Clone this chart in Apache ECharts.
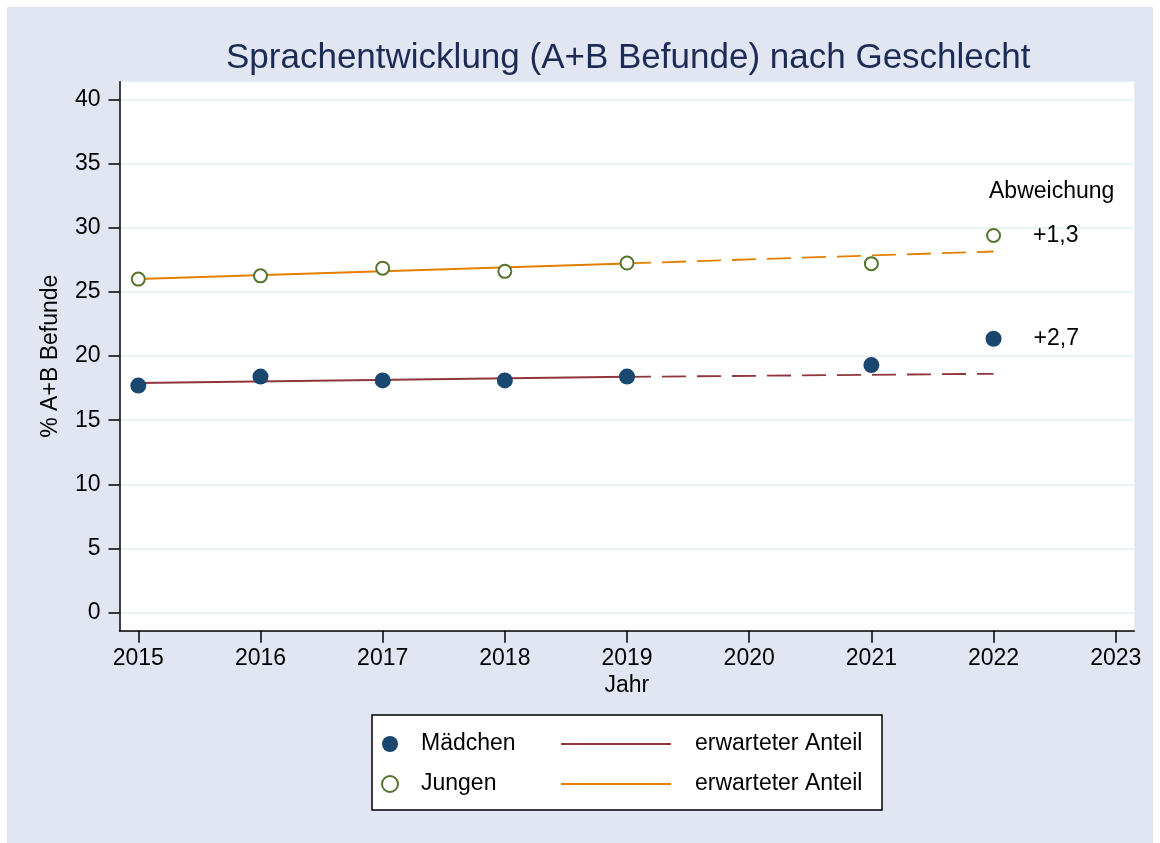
<!doctype html>
<html>
<head>
<meta charset="UTF-8">
<title>Sprachentwicklung nach Geschlecht</title>
<script src="https://cdn.jsdelivr.net/npm/echarts@6/dist/echarts.min.js"></script>
<style>
    html, body { margin: 0; padding: 0; background: #fff; }
    #main { width: 1160px; height: 843px; }
</style>
</head>
<body>
<div id="main"></div>
<script type="text/javascript">
    // Daten
    var years = [2015, 2016, 2017, 2018, 2019, 2021, 2022];
    var maedchen = [17.7, 18.4, 18.1, 18.1, 18.4, 19.3, 21.35];
    var jungen = [26.0, 26.25, 26.85, 26.6, 27.25, 27.2, 29.4];
    // erwarteter Anteil (Trend 2015-2019, fortgeschrieben bis 2022)
    var trendYears = [2015, 2019, 2022];
    var trendMaedchen = [17.9, 18.38, 18.62];
    var trendJungen = [26.0, 27.22, 28.15];
    var abweichung = ['+2,7', '+1,3'];
    var xTicks = [2015, 2016, 2017, 2018, 2019, 2020, 2021, 2022, 2023];
    var yTicks = [0, 5, 10, 15, 20, 25, 30, 35, 40];

    var font = 'Liberation Sans, Arial, sans-serif';
    var fs = 23;

    function points(vals, dev) {
        return years.map(function (y, i) {
            var item = { value: [y, vals[i]] };
            if (i === years.length - 1) {
                item.label = {
                    show: true, position: 'right', distance: 32,
                    formatter: dev, fontSize: fs, color: '#000', fontFamily: font
                };
            }
            return item;
        });
    }
    function line(vals, from, to) {
        var d = [];
        for (var i = from; i <= to; i++) d.push([trendYears[i], vals[i]]);
        return d;
    }

    var myChart = echarts.init(document.getElementById('main'));
    var option = {
        backgroundColor: '#fff',
        animation: false,
        title: {
            text: 'Sprachentwicklung (A+B Befunde) nach Geschlecht',
            left: 221,
            top: 36,
            textStyle: { color: '#1c2b55', fontSize: 35, fontWeight: 'normal', fontFamily: font }
        },
        graphic: [
            { type: 'rect', z: -10, shape: { x: 7, y: 7, width: 1146, height: 836 }, style: { fill: '#e1e6f2' } },
            { type: 'rect', z: 0, shape: { x: 372, y: 715, width: 510, height: 95 },
              style: { fill: '#fff', stroke: '#000', lineWidth: 1.5 } },
            { type: 'text', z: 10, left: 989, top: 180,
              style: { text: 'Abweichung', fontSize: fs, fill: '#000', fontFamily: font } }
        ],
        legend: [{
            orient: 'vertical',
            left: 376,
            top: 727,
            itemWidth: 16,
            itemHeight: 16,
            itemGap: 16,
            data: ['Mädchen', 'Jungen'],
            textStyle: { fontSize: fs, color: '#000', fontFamily: font, lineHeight: 24, padding: [0, 0, 0, 18] }
        }, {
            orient: 'vertical',
            left: 556,
            top: 727,
            icon: 'rect',
            itemWidth: 110,
            itemHeight: 2,
            itemGap: 16,
            data: ['erwarteter Anteil M', 'erwarteter Anteil J'],
            formatter: function () { return 'erwarteter Anteil'; },
            textStyle: { fontSize: fs, color: '#000', fontFamily: font, lineHeight: 24, padding: [0, 0, 0, 19] }
        }],
        grid: {
            left: 119.5, right: 25.7, top: 81.7, bottom: 212.3,
            show: true, backgroundColor: '#fff', borderWidth: 0
        },
        xAxis: {
            type: 'value',
            min: 2014.846,
            max: 2023.152,
            name: 'Jahr',
            nameLocation: 'middle',
            nameGap: 43,
            nameTextStyle: { fontSize: fs, color: '#000', fontFamily: font },
            axisLine: { onZero: false, lineStyle: { color: '#000', width: 1.5 } },
            axisTick: { length: 12, lineStyle: { color: '#000', width: 1.5 }, customValues: xTicks },
            axisLabel: { customValues: xTicks, margin: 16, fontSize: fs, color: '#000', fontFamily: font,
                formatter: function (v) { return String(v); } },
            splitLine: { show: false }
        },
        yAxis: {
            type: 'value',
            min: -1.4,
            max: 41.38,
            name: '% A+B Befunde',
            nameLocation: 'middle',
            nameRotate: 90,
            nameGap: 57,
            nameTextStyle: { fontSize: fs, color: '#000', fontFamily: font },
            axisLine: { show: true, onZero: false, lineStyle: { color: '#000', width: 1.5 } },
            axisTick: { show: true, length: 11, lineStyle: { color: '#000', width: 1.5 }, customValues: yTicks },
            axisLabel: { customValues: yTicks, margin: 19, fontSize: fs, color: '#000', fontFamily: font },
            splitLine: { show: true, lineStyle: { color: '#eaf2f3', width: 2 } }
        },
        series: [{
            name: 'erwarteter Anteil M',
            type: 'line',
            symbol: 'none',
            z: 2,
            data: line(trendMaedchen, 0, 1),
            lineStyle: { color: '#90353b', width: 2 },
            itemStyle: { color: '#90353b' }
        }, {
            type: 'line',
            symbol: 'none',
            z: 2,
            data: line(trendMaedchen, 1, 2),
            lineStyle: { color: '#90353b', width: 1.8, type: [24, 11] }
        }, {
            name: 'erwarteter Anteil J',
            type: 'line',
            symbol: 'none',
            z: 2,
            data: line(trendJungen, 0, 1),
            lineStyle: { color: '#e37e00', width: 2 },
            itemStyle: { color: '#e37e00' }
        }, {
            type: 'line',
            symbol: 'none',
            z: 2,
            data: line(trendJungen, 1, 2),
            lineStyle: { color: '#e37e00', width: 1.8, type: [24, 11] }
        }, {
            name: 'Mädchen',
            type: 'scatter',
            symbol: 'circle',
            symbolSize: 16,
            z: 3,
            itemStyle: { color: '#1a476f', opacity: 1 },
            data: points(maedchen, abweichung[0])
        }, {
            name: 'Jungen',
            type: 'scatter',
            symbol: 'emptyCircle',
            symbolSize: 13,
            z: 3,
            itemStyle: { color: '#55752f', borderColor: '#55752f', borderWidth: 2, opacity: 1 },
            data: points(jungen, abweichung[1])
        }]
    };
    myChart.setOption(option);
</script>
</body>
</html>
